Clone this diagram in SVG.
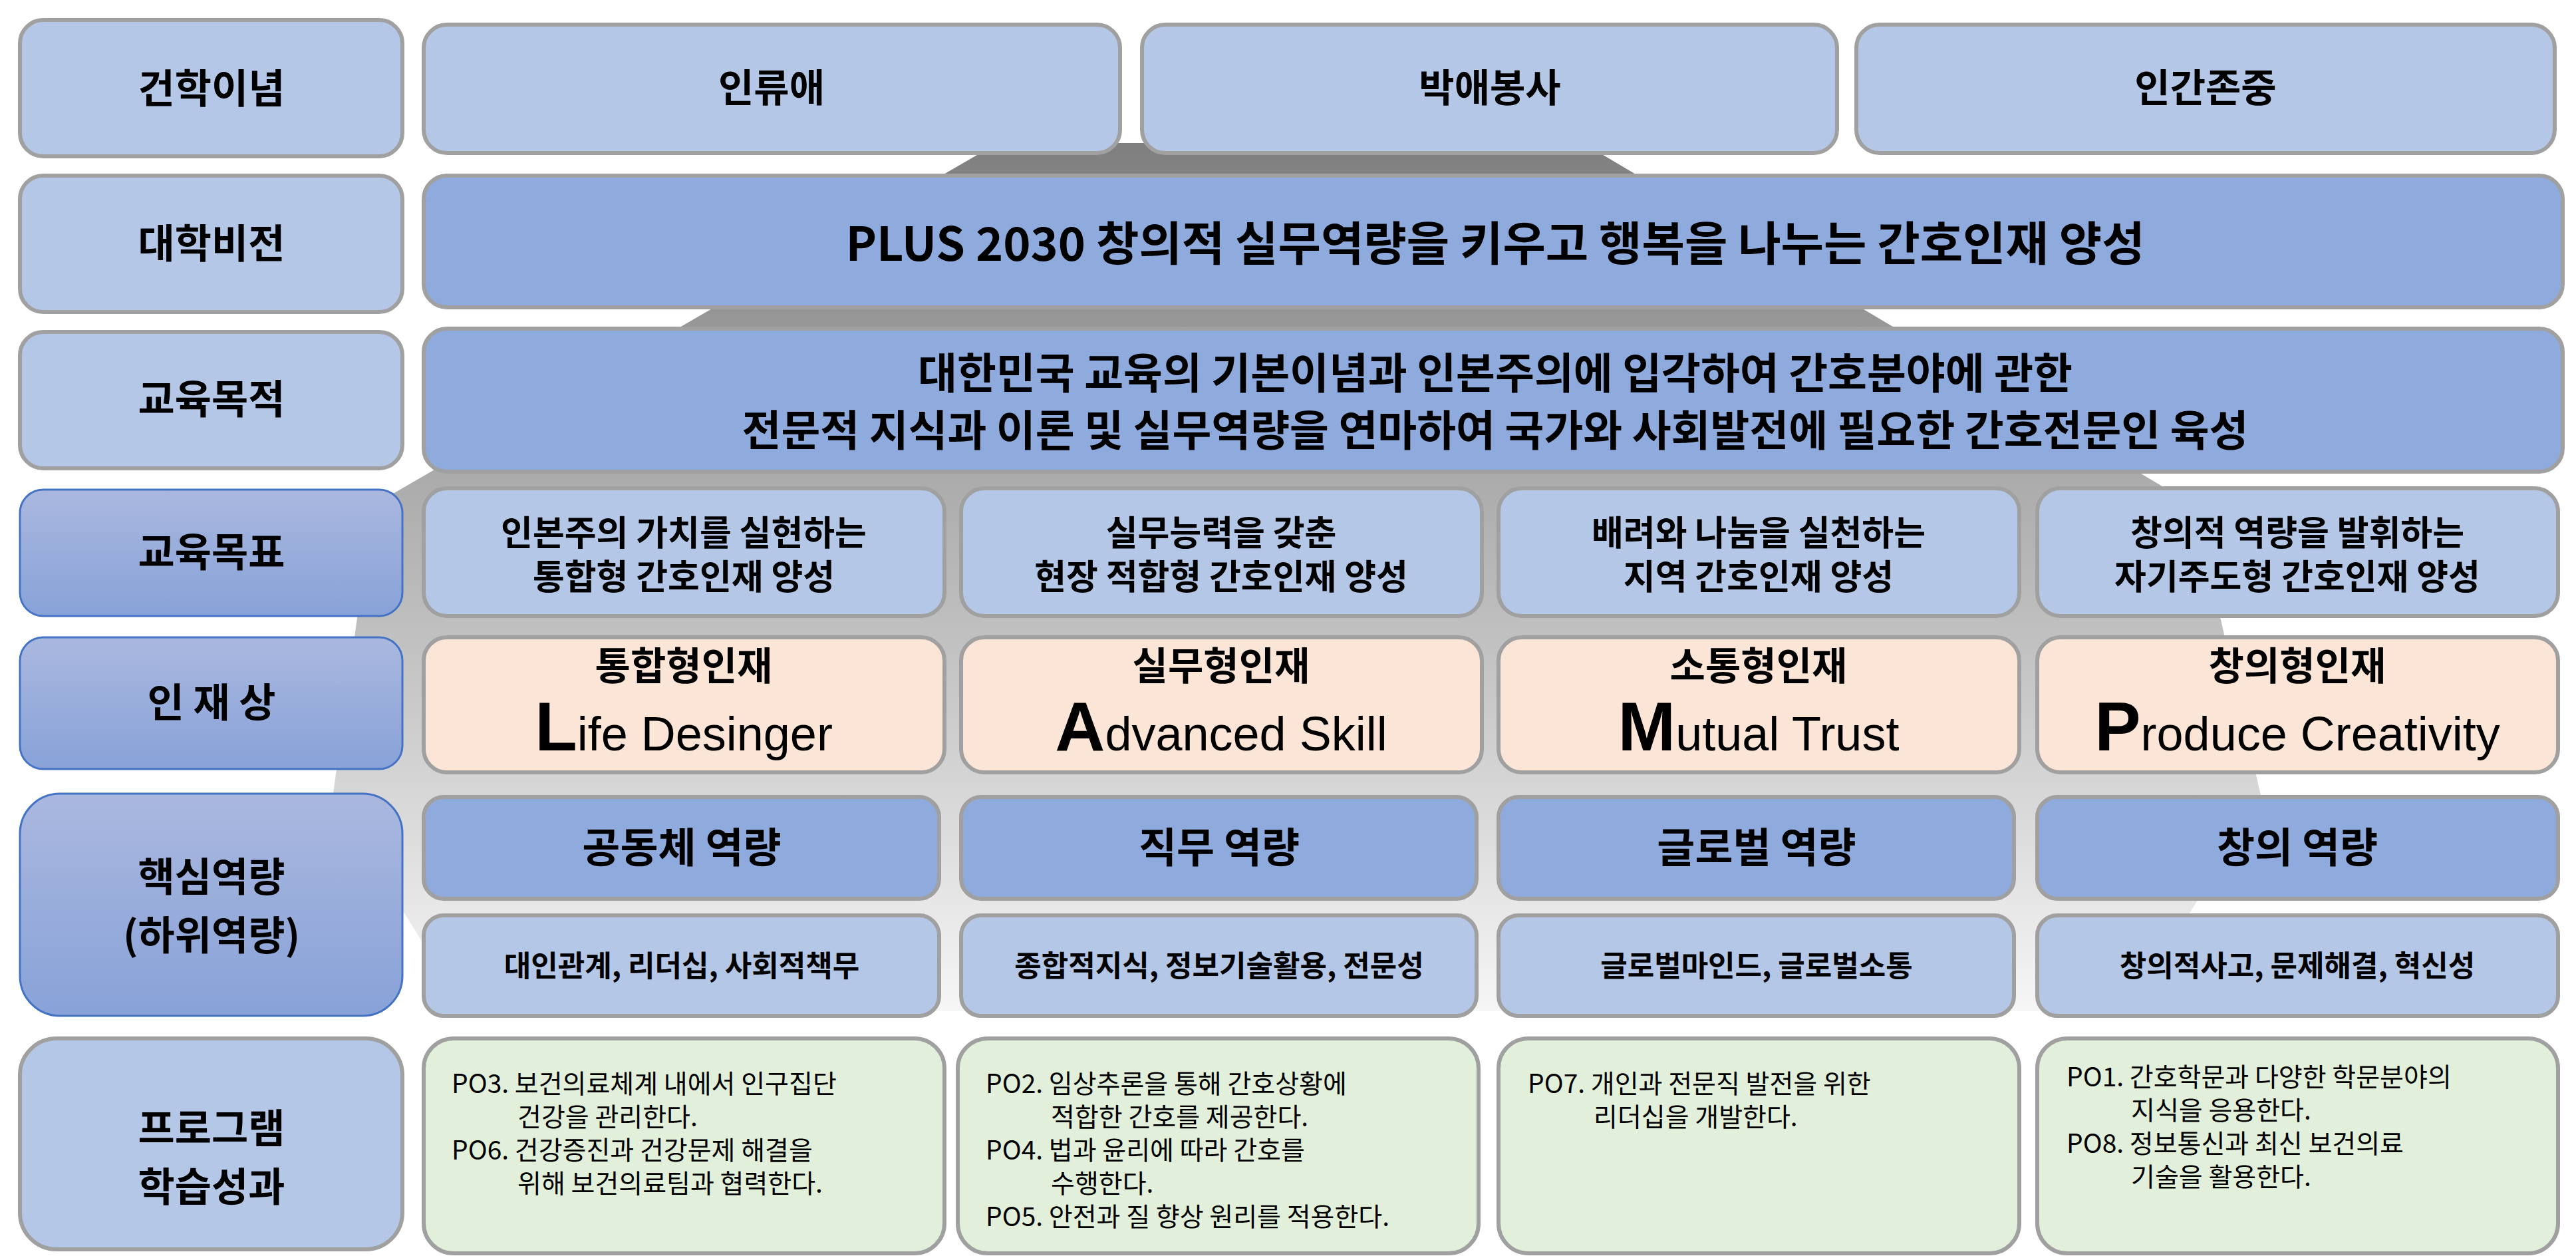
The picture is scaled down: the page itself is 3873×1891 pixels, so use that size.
<svg xmlns="http://www.w3.org/2000/svg" width="3873" height="1891" viewBox="0 0 3873 1891">
<defs>
<linearGradient id="gshadow" x1="0" y1="0" x2="0" y2="1"><stop offset="0" stop-color="#7f7f7f"/><stop offset="0.6" stop-color="#c4c4c4"/><stop offset="1" stop-color="#f6f6f6"/></linearGradient>
<linearGradient id="glab" x1="0" y1="0" x2="0" y2="1"><stop offset="0" stop-color="#AAB8DF"/><stop offset="1" stop-color="#88A2D8"/></linearGradient>
</defs>
<style>
.b{stroke:#A0A0A0;stroke-width:6}
.lt{fill:#B4C7E7}.dk{fill:#8FAADC}.pe{fill:#FBE5D6}.gr{fill:#E2EFDA}
.gl{fill:url(#glab);stroke:#4472C4;stroke-width:3}
text{font-family:"Noto Sans CJK KR","Liberation Sans",sans-serif;font-weight:bold;fill:#000;text-anchor:middle}
.t55{font-size:60px}.t50{font-size:58px}.t60{font-size:70px}.t66{font-size:64px}.t46{font-size:52px}.t40{font-size:44px}.t62{font-size:62px}
.po{font-size:39px;text-anchor:start;font-weight:normal}
.en{font-family:"Liberation Sans",sans-serif;font-size:72px;font-weight:normal}
.cap{font-size:104px;font-weight:bold}
</style>
<polygon points="1500,215 2380,215 3300,760 3400,1200 3200,1520 700,1520 500,1200 560,760" fill="url(#gshadow)"/>
<g id="row1">
<rect class="b lt" x="30" y="30" width="575" height="205" rx="35"/><text class="t55" x="318" y="155">건학이념</text>
<rect class="b lt" x="637" y="37" width="1047" height="193" rx="35"/><text class="t50" x="1160" y="153">인류애</text>
<rect class="b lt" x="1717" y="37" width="1045" height="193" rx="35"/><text class="t50" x="2240" y="153">박애봉사</text>
<rect class="b lt" x="2791" y="37" width="1050" height="193" rx="35"/><text class="t50" x="3316" y="153">인간존중</text>
</g>
<g id="row2">
<rect class="b lt" x="30" y="264" width="575" height="205" rx="35"/><text class="t55" x="318" y="388">대학비전</text>
<rect class="b dk" x="637" y="264" width="3216" height="198" rx="35"/><text class="t60" x="2248" y="392">PLUS 2030 창의적 실무역량을 키우고 행복을 나누는 간호인재 양성</text>
</g>
<g id="row3">
<rect class="b lt" x="30" y="499" width="575" height="205" rx="35"/><text class="t55" x="318" y="622">교육목적</text>
<rect class="b dk" x="637" y="494" width="3216" height="215" rx="35"/>
<text class="t66" x="2248" y="584">대한민국 교육의 기본이념과 인본주의에 입각하여 간호분야에 관한</text>
<text class="t66" x="2248" y="670">전문적 지식과 이론 및 실무역량을 연마하여 국가와 사회발전에 필요한 간호전문인 육성</text>
</g>
<g id="row4">
<rect class="gl" x="30" y="736" width="575" height="190" rx="35"/><text class="t55" x="318" y="852">교육목표</text>
<rect class="b lt" x="637" y="734" width="783" height="192" rx="35"/><text class="t46" x="1028" y="820">인본주의 가치를 실현하는</text><text class="t46" x="1028" y="886">통합형 간호인재 양성</text>
<rect class="b lt" x="1445" y="734" width="783" height="192" rx="35"/><text class="t46" x="1836" y="820">실무능력을 갖춘</text><text class="t46" x="1836" y="886">현장 적합형 간호인재 양성</text>
<rect class="b lt" x="2253" y="734" width="783" height="192" rx="35"/><text class="t46" x="2644" y="820">배려와 나눔을 실천하는</text><text class="t46" x="2644" y="886">지역 간호인재 양성</text>
<rect class="b lt" x="3063" y="734" width="783" height="192" rx="35"/><text class="t46" x="3454" y="820">창의적 역량을 발휘하는</text><text class="t46" x="3454" y="886">자기주도형 간호인재 양성</text>
</g>
<g id="row5">
<rect class="gl" x="30" y="958" width="575" height="198" rx="35"/><text class="t55" x="318" y="1078">인 재 상</text>
<rect class="b pe" x="637" y="958" width="783" height="203" rx="35"/><text class="t50" x="1028" y="1022">통합형인재</text><text class="en" x="1028" y="1128"><tspan class="cap">L</tspan>ife Desinger</text>
<rect class="b pe" x="1445" y="958" width="783" height="203" rx="35"/><text class="t50" x="1836" y="1022">실무형인재</text><text class="en" x="1836" y="1128"><tspan class="cap">A</tspan>dvanced Skill</text>
<rect class="b pe" x="2253" y="958" width="783" height="203" rx="35"/><text class="t50" x="2644" y="1022">소통형인재</text><text class="en" x="2644" y="1128"><tspan class="cap">M</tspan>utual Trust</text>
<rect class="b pe" x="3063" y="958" width="783" height="203" rx="35"/><text class="t50" x="3454" y="1022">창의형인재</text><text class="en" x="3454" y="1128"><tspan class="cap">P</tspan>roduce Creativity</text>
</g>
<g id="row6">
<rect class="gl" x="30" y="1193" width="575" height="334" rx="60"/><text class="t55" x="318" y="1340">핵심역량</text><text class="t55" x="318" y="1428">(하위역량)</text>
<rect class="b dk" x="637" y="1198" width="775" height="153" rx="30"/><text class="t62" x="1025" y="1297">공동체 역량</text>
<rect class="b dk" x="1445" y="1198" width="775" height="153" rx="30"/><text class="t62" x="1833" y="1297">직무 역량</text>
<rect class="b dk" x="2253" y="1198" width="775" height="153" rx="30"/><text class="t62" x="2641" y="1297">글로벌 역량</text>
<rect class="b dk" x="3063" y="1198" width="783" height="153" rx="30"/><text class="t62" x="3454" y="1297">창의 역량</text>
<rect class="b lt" x="637" y="1376" width="775" height="151" rx="30"/><text class="t40" x="1025" y="1468">대인관계, 리더십, 사회적책무</text>
<rect class="b lt" x="1445" y="1376" width="775" height="151" rx="30"/><text class="t40" x="1833" y="1468">종합적지식, 정보기술활용, 전문성</text>
<rect class="b lt" x="2253" y="1376" width="775" height="151" rx="30"/><text class="t40" x="2641" y="1468">글로벌마인드, 글로벌소통</text>
<rect class="b lt" x="3063" y="1376" width="783" height="151" rx="30"/><text class="t40" x="3454" y="1468">창의적사고, 문제해결, 혁신성</text>
</g>
<g id="row7">
<rect class="b lt" x="30" y="1561" width="575" height="317" rx="55"/><text class="t55" x="318" y="1718">프로그램</text><text class="t55" x="318" y="1806">학습성과</text>
<rect class="b gr" x="637" y="1561" width="783" height="323" rx="45"/>
<text class="po" x="679" y="1643">PO3. 보건의료체계 내에서 인구집단</text>
<text class="po" x="778" y="1693">건강을 관리한다.</text>
<text class="po" x="679" y="1743">PO6. 건강증진과 건강문제 해결을</text>
<text class="po" x="778" y="1793">위해 보건의료팀과 협력한다.</text>
<rect class="b gr" x="1440" y="1561" width="783" height="323" rx="45"/>
<text class="po" x="1482" y="1643">PO2. 임상추론을 통해 간호상황에</text>
<text class="po" x="1580" y="1693">적합한 간호를 제공한다.</text>
<text class="po" x="1482" y="1743">PO4. 법과 윤리에 따라 간호를</text>
<text class="po" x="1580" y="1793">수행한다.</text>
<text class="po" x="1482" y="1843">PO5. 안전과 질 향상 원리를 적용한다.</text>
<rect class="b gr" x="2253" y="1561" width="783" height="323" rx="45"/>
<text class="po" x="2297" y="1643">PO7. 개인과 전문직 발전을 위한</text>
<text class="po" x="2396" y="1693">리더십을 개발한다.</text>
<rect class="b gr" x="3063" y="1561" width="783" height="323" rx="45"/>
<text class="po" x="3107" y="1633">PO1. 간호학문과 다양한 학문분야의</text>
<text class="po" x="3204" y="1683">지식을 응용한다.</text>
<text class="po" x="3107" y="1733">PO8. 정보통신과 최신 보건의료</text>
<text class="po" x="3204" y="1783">기술을 활용한다.</text>
</g>
</svg>
